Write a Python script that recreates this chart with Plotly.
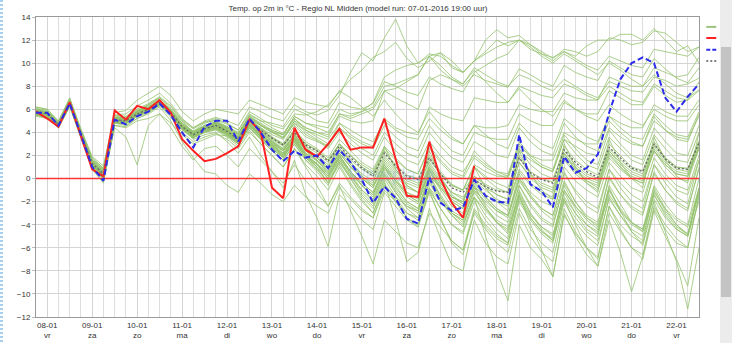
import plotly.graph_objects as go

# ---------------- data ----------------
day_labels = ["08-01<br>vr", "09-01<br>za", "10-01<br>zo", "11-01<br>ma", "12-01<br>di",
              "13-01<br>wo", "14-01<br>do", "15-01<br>vr", "16-01<br>za", "17-01<br>zo",
              "18-01<br>ma", "19-01<br>di", "20-01<br>wo", "21-01<br>do", "22-01<br>vr"]
day_steps = [1, 5, 9, 13, 17, 21, 25, 29, 33, 37, 41, 45, 49, 53, 57]   # 6-hourly step of each day label
steps = list(range(60))                                                  # 6-hourly time steps

operationeel = [5.8, 5.2, 4.5, 6.6, 3.7, 0.8, 0.2, 5.9, 5.1, 6.3, 6.0, 6.8, 5.7, 3.4, 2.4, 1.5, 1.7, 2.2, 2.8, 5.1,
                4.0, -0.8, -1.7, 4.4, 2.5, 1.9, 3.0, 4.3, 2.5, 2.7, 2.7, 5.2, 1.7, -1.5, -1.6, 3.2, 0.0, -2.1, -3.4, 1.1]

controle = [5.7, 5.7, 4.6, 6.5, 3.8, 1.0, -0.2, 5.1, 4.7, 5.4, 5.8, 6.5, 5.5, 4.0, 2.7, 4.5, 5.0, 5.0, 3.2, 5.2,
            4.0, 2.5, 1.5, 2.4, 1.8, 2.0, 0.9, 2.5, 1.4, -0.1, -2.1, -0.7, -1.7, -3.5, -3.9, 0.1, -2.1, -2.8, -2.5, -0.1,
            -1.5, -2.0, -2.1, 3.8, -0.5, -1.1, -2.5, 1.9, 0.5, 0.9, 2.1, 5.7, 8.6, 10.0, 10.5, 10.0, 7.0, 5.8, 7.1, 8.2]

gemiddelde = [5.8, 5.6, 4.7, 6.6, 3.9, 1.3, 0.4, 5.1, 5.0, 5.6, 6.0, 6.6, 5.7, 4.5, 3.8, 4.3, 4.6, 4.1, 3.4, 5.0,
              4.2, 3.5, 2.9, 4.0, 2.9, 2.4, 1.5, 2.8, 1.8, 0.9, 0.2, 2.2, 1.1, 0.2, -0.1, 1.8, 0.4, -0.8, -1.2, -0.1,
              -0.7, -1.1, -1.2, 1.8, 0.5, -0.1, -0.4, 2.5, 1.4, 0.6, 0.1, 2.7, 1.8, 0.9, 0.6, 3.0, 1.7, 0.9, 0.8, 3.1]

ensemble_members = [
    [6.2,6.0,4.9,6.9,4.2,1.8,0.9,5.5,5.6,6.3,6.8,7.4,6.5,5.2,4.4,5.0,5.3, 5.0,4.6,6.2,5.8,5.3,5.0,6.4,5.8,5.5,5.9,7.2,9.2,10.9,10.2,12.2,
     13.8,11.5,10.0,10.6,9.4,8.6,8.0,9.0,8.5,8.2,7.9,9.5,9.0,8.4,8.0,9.8,9.2,8.8,8.5,10.2,9.6,9.0,8.8,10.4,9.5,8.7,8.3,9.6],
    [5.5,5.3,4.5,6.4,3.6,1.0,0.1,4.8,4.7,5.4,5.9,6.5,5.9,4.8,4.1,4.8,5.1, 4.7,4.2,5.8,5.2,4.6,4.3,5.6,5.5,5.8,6.4,7.5,8.6,9.4,10.5,11.0,
     11.8,10.4,9.6,10.2,10.9,9.6,9.2,10.2,11.0,12.0,11.5,12.0,11.2,10.8,10.5,11.0,10.6,11.5,12.0,12.0,12.5,12.5,12.0,13.0,12.0,11.0,11.5,10.0],
    [5.9,5.7,4.8,6.7,4.0,1.5,0.6,5.3,5.2,5.9,6.3,6.9,5.5,4.2,3.5,4.5,4.9, 4.4,3.9,5.5,5.0,4.8,4.5,6.0,5.6,5.0,4.8,6.6,6.2,6.0,6.5,8.4,
     8.0,7.5,7.2,8.8,8.2,7.8,7.5,9.2,9.8,10.4,10.8,12.0,11.6,11.0,10.4,11.2,11.0,10.6,11.0,12.2,12.0,11.6,11.8,12.8,12.6,11.8,11.0,11.4],
    [5.6,5.4,4.6,6.5,3.8,1.2,0.2,5.0,4.9,5.5,6.1,6.8,6.0,5.0,4.3,4.9,5.0, 4.5,4.0,5.4,4.6,4.0,3.8,5.2,4.4,4.0,3.6,5.4,5.0,4.8,5.0,7.6,
     7.0,6.5,6.0,8.5,9.0,8.6,8.2,9.6,9.0,8.4,8.0,9.0,8.6,8.0,7.6,8.6,8.0,7.4,7.0,8.4,8.0,7.6,7.5,8.8,8.5,8.0,8.2,8.7],
    [6.0,5.8,4.8,6.8,4.1,1.6,0.8,5.4,5.3,5.8,6.4,7.0,6.2,5.0,4.0,4.6,4.8, 4.3,3.6,5.2,4.4,3.6,3.0,4.6,3.6,3.2,2.8,4.8,3.8,3.2,2.8,5.2,
     4.4,4.0,3.8,6.2,5.6,5.2,5.0,7.0,6.8,6.6,6.6,8.0,7.6,7.2,7.0,8.2,7.8,7.2,6.8,8.0,7.4,6.8,6.6,8.2,7.6,7.0,6.8,7.6],
    [5.7,5.5,4.6,6.6,3.8,1.2,0.3,5.1,4.9,5.6,5.9,6.5,5.6,4.4,3.7,4.2,4.5, 4.0,3.4,5.1,4.3,3.6,3.0,4.2,3.0,2.5,1.6,3.0,2.0,1.0,0.4,2.4,
     1.2,0.3,0.0,2.0,0.6,-0.5,-1.0,0.2,-0.5,-1.0,-1.2,2.0,0.6,0.0,-0.3,2.8,1.6,0.8,0.3,3.0,2.0,1.0,0.7,3.2,1.8,1.0,0.9,3.3],
    [5.9,5.6,4.7,6.5,3.9,1.4,0.5,5.0,5.1,5.7,6.1,6.7,5.8,4.6,3.9,4.4,4.7, 4.2,3.5,4.9,4.0,3.2,2.4,3.6,2.2,1.6,0.6,2.2,1.0,0.0,-0.8,1.4,
     0.2,-0.8,-1.2,1.0,-0.4,-1.6,-2.2,-0.8,-1.4,-2.0,-2.4,0.6,-0.6,-1.4,-1.8,1.6,0.4,-0.4,-1.0,1.8,0.8,0.0,-0.4,2.4,1.2,0.4,0.2,2.6],
    [5.6,5.4,4.5,6.4,3.7,1.0,0.0,4.8,4.8,5.4,5.8,6.4,5.5,4.3,3.6,4.0,4.3, 3.8,3.2,4.6,3.6,2.8,2.0,3.4,2.0,1.0,-0.4,1.4,0.0,-1.6,-2.6,0.0,
     -1.6,-3.0,-3.6,-0.8,-2.6,-4.0,-4.8,-2.0,-3.6,-4.8,-5.6,-1.6,-3.4,-4.6,-5.4,-1.2,-3.0,-4.4,-5.0,-1.0,-2.6,-3.8,-4.4,-0.6,-2.2,-3.4,-4.0,0.0],
    [5.8,5.5,4.6,6.6,3.8,1.3,0.2,5.0,4.8,5.5,5.9,6.4,5.6,4.5,3.9,4.2,4.4, 3.9,3.2,4.8,3.8,3.0,2.4,3.8,2.4,1.6,0.4,2.0,0.6,-0.6,-1.4,1.0,
     -0.6,-2.0,-2.6,0.4,-1.6,-3.0,-3.8,-1.6,-5.0,-8.0,-10.6,-4.0,-6.0,-7.0,-8.5,-3.0,-5.0,-6.6,-7.6,-3.0,-4.6,-6.0,-6.6,-2.4,-4.0,-5.2,-6.0,-1.6],
    [5.5,5.3,4.4,6.3,3.6,0.9,-0.3,4.6,4.5,5.2,5.7,6.3,5.3,4.0,3.2,3.6,3.9, 3.4,2.6,4.0,3.0,2.0,1.0,2.6,1.0,-0.6,-2.4,-0.6,-2.8,-5.0,-7.4,-3.6,
     -4.6,-5.6,-6.0,-3.0,-4.2,-5.4,-6.2,-3.0,-4.4,-5.6,-6.4,-2.6,-4.4,-5.6,-6.4,-2.0,-3.8,-5.0,-5.8,-1.6,-3.2,-4.6,-5.4,-1.0,-2.8,-4.0,-4.8,-0.8],
    [5.7,5.6,4.8,6.7,4.0,1.4,0.5,5.2,5.0,5.6,6.0,6.6,5.6,4.3,3.4,3.8,4.0, 3.2,2.2,3.6,2.0,0.6,-0.8,1.6,-1.4,-3.4,-5.9,-1.4,-2.4,-3.6,-4.4,-1.2,
     -2.4,-3.6,-4.2,-1.0,-2.6,-4.0,-4.6,-1.6,-3.2,-4.4,-5.2,-1.2,-3.0,-4.2,-5.0,-1.0,-2.6,-4.0,-4.8,-0.6,-2.2,-3.8,-4.6,-0.8,-2.6,-4.0,-5.0,-1.2],
    [5.9,5.7,4.7,6.6,3.9,1.4,0.6,5.2,5.1,5.7,6.1,6.7,5.7,4.4,3.7,4.1,4.3, 3.7,3.0,4.4,3.4,2.4,1.6,3.0,1.6,0.6,-0.6,1.6,0.0,-1.4,-2.4,-0.2,
     -3.6,-7.2,-6.4,-2.6,-5.2,-7.5,-8.0,-3.6,-5.6,-6.8,-7.4,-3.0,-5.0,-6.4,-7.2,-2.6,-4.6,-6.0,-7.0,-2.4,-4.4,-6.0,-7.0,-2.8,-5.0,-7.0,-9.3,-3.4],
    [5.6,5.5,4.6,6.5,3.8,1.2,0.4,5.0,5.0,5.5,5.9,6.5,5.7,4.6,3.9,4.4,4.7, 4.1,3.4,4.8,3.8,3.0,2.2,3.6,2.4,1.8,0.8,2.4,1.2,0.2,-0.6,1.2,
     0.0,-1.2,-1.8,0.8,-0.6,-1.8,-2.4,-0.4,-1.6,-2.6,-3.2,0.0,-1.6,-2.8,-3.6,-0.2,-2.0,-3.4,-4.2,-0.8,-2.8,-4.6,-5.8,-2.0,-4.6,-7.2,-11.3,-6.0],
    [5.8,5.6,4.7,6.6,3.9,1.3,0.4,5.1,5.0,5.6,6.0,6.6,5.7,4.5,3.8,4.3,4.6, 4.0,3.2,4.6,3.6,2.8,2.0,3.4,2.0,1.2,0.0,1.8,0.4,-1.0,-2.0,0.4,
     -1.0,-2.2,-2.8,0.0,-1.6,-3.0,-3.6,-1.0,-2.6,-3.8,-4.6,-1.0,-3.0,-4.4,-5.4,-1.8,-4.0,-6.0,-7.6,-3.6,-6.4,-9.8,-6.7,-2.6,-4.4,-5.6,-6.0,-1.4],
    [5.7,5.5,4.6,6.5,3.8,1.2,0.3,5.0,4.9,5.5,5.9,6.5,5.6,4.4,3.7,4.2,4.5, 3.9,3.2,4.7,3.7,2.9,2.1,3.5,2.1,1.3,0.2,2.0,0.6,-0.6,-1.6,0.6,
     -0.8,-2.0,-2.6,0.2,-1.4,-2.8,-3.4,-0.6,-2.4,-3.8,-4.8,-1.4,-4.0,-6.2,-8.5,-3.2,-4.8,-6.0,-6.8,-2.4,-4.0,-5.0,-5.6,-1.8,-3.4,-4.4,-5.0,-1.0],
    [6.0,5.7,4.8,6.8,4.0,1.6,0.8,5.3,5.3,5.9,6.4,7.0,6.0,4.8,4.1,4.6,4.9, 4.4,3.8,5.3,4.6,4.0,3.5,4.8,3.8,3.3,2.6,4.0,3.0,2.2,1.6,3.6,
     2.4,1.6,1.2,3.2,2.0,1.0,0.6,2.0,1.2,0.6,0.4,3.0,1.8,1.0,0.6,3.4,2.2,1.2,0.8,3.6,2.6,1.6,1.2,3.8,2.6,1.6,1.4,4.0],
    [5.4,5.2,4.4,6.2,3.5,0.8,-0.4,4.6,4.4,5.0,5.2,5.6,4.8,3.8,3.0,3.4,3.8, 3.7,3.0,4.4,3.4,2.6,1.8,3.2,1.8,1.2,0.2,1.8,0.6,-0.4,-1.2,1.0,
     -0.2,-1.2,-1.6,1.0,-0.4,-1.6,-2.0,0.2,-0.6,-1.4,-1.8,1.4,0.2,-0.6,-1.0,2.2,1.0,0.2,-0.2,2.4,1.4,0.6,0.2,2.8,1.6,0.8,0.6,3.0],
    [6.1,5.9,4.9,6.9,4.2,1.7,0.9,5.5,5.4,6.0,6.5,7.1,6.3,5.1,4.4,4.9,5.2, 4.8,4.2,5.6,5.0,4.4,3.9,5.2,4.2,3.6,3.0,4.4,3.4,2.6,2.0,4.0,
     3.0,2.2,1.8,4.0,2.8,1.8,1.4,3.2,2.6,2.0,1.8,4.4,3.2,2.4,2.0,4.8,3.6,2.8,2.4,5.0,4.0,3.2,2.8,5.4,4.2,3.4,3.2,5.6],
    [5.8,5.6,4.7,6.6,3.9,1.3,0.5,5.1,5.0,5.6,6.0,6.6,5.7,4.5,3.8,4.3,4.6, 4.1,3.3,4.9,4.1,3.3,2.6,3.8,2.6,2.0,1.2,2.6,1.6,0.8,0.2,2.0,
     0.8,-0.2,-0.6,1.4,0.0,-1.2,-1.6,-0.2,-1.0,-1.8,-2.2,0.8,-0.4,-1.2,-1.6,1.8,0.6,-0.2,-0.8,2.0,1.0,0.2,-0.2,2.4,1.2,0.4,0.2,2.8],
    [5.5,5.4,4.5,6.4,3.7,1.1,0.1,4.9,4.8,5.4,5.8,6.4,5.5,4.3,3.5,4.0,4.3, 3.8,3.1,4.6,3.8,3.1,2.4,3.9,2.8,2.2,1.4,3.0,2.0,1.2,0.6,2.6,
     1.6,0.8,0.4,2.6,1.4,0.4,0.0,1.8,1.0,0.4,0.0,2.6,1.2,0.4,0.0,2.4,1.2,0.4,0.0,2.6,1.6,0.8,0.4,3.0,1.8,1.0,0.8,3.2],
    [5.9,5.7,4.8,6.7,4.0,1.4,0.5,5.2,5.1,5.7,6.1,6.7,5.8,4.6,3.9,4.4,4.7, 4.1,3.4,4.8,3.9,3.1,2.4,3.7,2.4,1.6,0.8,2.2,1.0,0.0,-0.8,1.2,
     -0.2,-1.4,-2.0,0.6,-0.8,-2.0,-2.6,-0.6,-1.8,-2.8,-3.4,-0.2,-1.6,-2.6,-3.2,0.4,-1.0,-2.0,-2.6,0.8,-0.4,-1.4,-2.0,1.2,0.0,-1.0,-1.4,1.6],
    [5.8,5.5,4.6,6.6,3.9,1.3,0.4,5.1,4.9,5.5,5.9,6.5,5.6,4.4,3.7,4.2,4.5, 4.0,3.4,5.0,4.4,3.8,3.4,4.8,4.2,3.8,3.4,4.8,4.2,3.6,3.2,5.0,
     4.2,3.6,3.4,5.2,4.2,3.4,3.0,4.6,3.8,3.0,2.6,4.8,3.8,3.0,2.6,5.2,4.4,3.6,3.2,5.4,4.4,3.6,3.4,5.6,4.6,3.8,3.6,5.8],
    [5.6,5.3,4.4,6.3,3.5,0.9,-0.1,4.4,3.6,1.2,4.6,5.6,4.4,2.8,1.6,2.6,2.8, 2.0,1.0,2.6,1.6,0.6,-0.4,1.2,-0.2,-1.2,-2.4,-0.4,-1.6,-2.6,-3.4,-1.0,
     -2.0,-3.0,-3.4,-0.8,-2.0,-3.0,-3.6,-1.0,-2.0,-2.8,-3.2,0.0,-1.2,-2.0,-2.4,1.0,-0.2,-1.0,-1.6,1.4,0.2,-0.8,-1.2,1.8,0.4,-0.6,-1.0,2.0],
    [6.2,6.0,5.0,7.0,4.3,1.9,1.1,5.7,5.9,6.8,7.4,8.0,7.2,5.8,5.0,5.6,6.0, 5.8,5.6,6.8,6.4,6.0,5.6,7.0,6.6,6.4,6.2,7.6,7.0,6.2,5.4,6.8,
     5.6,4.6,4.0,5.8,4.6,3.6,3.0,4.6,4.4,4.4,4.6,6.4,6.0,5.8,5.8,7.4,7.0,6.8,6.8,8.8,8.4,8.0,8.0,9.6,9.2,8.8,9.0,10.5],
    [5.7,5.5,4.7,6.5,3.8,1.2,0.3,5.0,4.9,5.6,6.0,6.6,5.7,4.5,3.8,4.4,4.7, 4.2,3.6,5.2,4.6,4.2,3.8,5.4,4.8,4.6,4.4,6.0,5.6,5.8,6.2,8.0,
     8.2,8.6,9.0,10.6,10.9,10.2,9.2,10.2,10.8,11.4,11.8,12.0,11.4,10.6,10.0,10.8,10.2,9.6,9.0,10.0,9.4,8.6,8.0,9.0,8.2,7.4,7.0,7.7],
    [5.9,5.7,4.8,6.7,4.0,1.5,0.6,5.3,5.2,5.8,6.2,6.8,5.9,4.7,4.0,4.5,4.8, 4.3,3.6,5.2,4.2,3.2,2.6,4.2,2.8,1.8,1.0,3.0,1.4,0.2,-0.4,2.8,
     0.8,-0.6,-1.2,2.4,0.2,-1.4,-2.2,1.0,-0.8,-2.0,-2.8,2.4,0.4,-1.0,-1.8,3.0,1.0,-0.4,-1.2,3.4,1.4,0.0,-0.8,3.6,1.6,0.2,-0.4,4.0],
    [5.6,5.4,4.5,6.5,3.8,1.1,0.2,4.9,4.8,5.4,5.8,6.4,5.5,4.3,3.6,4.1,4.4, 3.9,3.2,4.6,3.6,2.7,1.9,3.2,1.8,1.0,0.0,1.6,0.2,-1.0,-1.8,0.4,
     -1.2,-2.4,-3.0,-0.4,-2.0,-3.2,-4.0,-1.6,-2.8,-3.8,-4.4,-1.4,-3.2,-4.2,-4.8,-1.6,-3.0,-4.0,-4.6,-1.4,-2.8,-3.8,-4.4,-1.2,-2.6,-3.6,-4.2,-0.8],
    [6.0,5.8,4.9,6.8,4.1,1.6,0.7,5.3,5.2,5.8,6.2,6.8,5.9,4.7,4.0,4.6,4.9, 4.5,3.9,5.4,4.7,4.1,3.5,5.0,4.0,3.4,2.8,4.4,3.6,3.0,2.6,4.6,
     3.6,2.8,2.4,4.6,3.4,2.4,2.0,4.0,3.6,3.4,3.4,5.6,5.0,4.6,4.6,6.6,6.0,5.6,5.6,7.6,7.0,6.4,6.4,8.0,7.2,6.6,6.8,8.4],
    [5.7,5.6,4.7,6.6,3.9,1.3,0.4,5.1,5.0,5.6,6.0,6.6,5.7,4.5,3.8,4.3,4.6, 4.0,3.3,4.7,3.7,2.9,2.2,3.5,2.2,1.5,0.6,2.2,1.0,0.0,-0.6,1.6,
     0.4,-0.6,-1.2,1.2,-0.2,-1.2,-1.8,0.0,-0.8,-1.4,-1.8,1.4,0.0,-0.8,-1.2,2.0,0.8,0.0,-0.4,2.4,1.2,0.4,0.0,2.6,1.4,0.6,0.4,2.8],
    [5.8,5.6,4.7,6.6,3.9,1.4,0.5,5.1,5.1,5.7,6.1,6.7,5.8,4.6,4.0,4.5,4.8, 4.4,3.8,5.4,4.8,4.2,3.8,5.4,4.8,4.4,4.0,5.6,5.2,5.6,6.0,7.6,
     7.8,8.4,9.0,10.6,9.8,8.8,8.2,9.4,8.4,7.4,6.6,7.8,6.8,6.0,5.4,6.8,6.0,5.4,5.0,6.4,5.6,5.0,4.6,6.0,5.4,5.0,5.0,6.4],
    [5.5,5.3,4.5,6.4,3.7,1.0,0.0,4.8,4.8,5.4,5.8,6.4,5.5,4.3,3.6,4.1,4.4, 3.9,3.1,4.5,3.5,2.7,1.9,3.3,2.0,1.3,0.4,2.0,0.6,-0.4,-1.2,1.0,
     -0.2,-1.4,-2.0,0.8,-0.8,-2.0,-2.6,-0.2,-1.6,-2.6,-3.2,0.4,-1.4,-2.6,-3.2,0.6,-1.2,-2.4,-3.0,0.8,-0.8,-2.0,-2.6,1.2,-0.4,-1.6,-2.2,1.6],
    [5.8,5.5,4.6,6.5,3.8,1.2,0.3,5.0,4.9,5.5,5.9,6.5,5.6,4.4,3.6,4.0,4.2, 3.6,2.8,4.2,3.0,2.0,1.0,2.6,1.2,0.2,-1.0,1.0,-0.6,-2.0,-3.0,-0.6,
     -2.0,-3.4,-4.0,-1.0,-3.6,-5.4,-6.2,-2.6,-4.0,-5.0,-5.6,-1.8,-3.4,-4.6,-5.2,-1.0,-2.4,-3.4,-4.0,0.0,-1.4,-2.4,-3.0,0.4,-1.0,-2.0,-2.6,0.8],
    [5.6,5.4,4.5,6.4,3.6,1.0,0.0,4.8,4.6,5.2,5.6,6.2,5.0,3.2,1.8,0.6,0.4, -0.6,-1.2,0.4,-0.4,-1.4,-2.0,-0.6,-1.6,-2.4,-3.0,-0.8,-1.8,-2.8,-3.4,-0.6,
     -1.6,-2.4,-2.8,0.2,-0.8,-1.6,-2.0,1.0,0.2,-0.4,-0.8,2.4,1.6,1.0,0.6,3.4,2.8,2.2,2.0,4.4,3.6,3.0,2.8,5.0,4.2,3.6,3.4,5.4],
    [5.9,5.7,4.8,6.7,4.0,1.5,0.6,5.2,5.1,5.7,6.1,6.7,5.8,4.6,3.9,4.4,4.7, 4.2,3.6,5.2,4.6,4.0,3.6,5.0,4.4,4.0,3.8,5.6,5.4,5.8,6.6,8.8,
     9.4,9.8,10.0,10.8,10.6,9.8,9.2,10.2,12.0,12.9,12.2,12.4,11.6,10.8,10.2,11.0,10.4,9.8,9.4,10.6,10.2,9.8,9.6,11.2,11.0,10.8,10.6,11.4],
    [5.7,5.5,4.6,6.5,3.8,1.2,0.3,5.0,4.9,5.5,5.9,6.5,5.6,4.4,3.7,4.1,4.4, 3.8,3.0,4.4,3.4,2.4,1.6,3.0,1.6,0.8,-0.2,1.4,0.2,-1.2,-2.2,0.2,
     -1.2,-2.6,-3.4,-0.2,-1.8,-3.2,-4.2,-1.2,-2.6,-3.6,-4.2,-0.6,-2.4,-3.6,-4.2,-0.4,-2.0,-3.2,-3.8,0.2,-1.4,-2.6,-3.2,0.6,-1.0,-2.2,-2.8,1.0],
    [5.9,5.6,4.7,6.6,3.9,1.4,0.5,5.1,5.0,5.7,6.1,6.7,5.8,4.6,3.9,4.4,4.7, 4.2,3.5,5.0,4.2,3.4,2.8,4.2,3.2,2.6,1.8,3.4,2.4,1.4,0.8,2.8,
     1.8,0.8,0.4,2.8,1.6,0.6,0.2,2.4,1.4,0.6,0.2,3.2,2.0,1.2,0.8,3.8,2.6,1.6,1.2,4.2,3.0,2.0,1.6,4.4,3.2,2.2,2.0,4.6],
    [5.6,5.4,4.6,6.5,3.8,1.1,0.2,4.9,4.8,5.4,5.8,6.4,5.5,4.3,3.6,4.1,4.4, 3.9,3.2,4.6,3.7,2.9,2.1,3.4,2.0,1.2,0.2,1.8,0.4,-0.6,-1.4,0.8,
     -0.4,-1.6,-2.2,0.6,-1.0,-2.4,-3.0,-0.8,-2.2,-3.2,-3.8,-0.6,-2.2,-3.4,-4.0,-0.6,-2.4,-3.6,-4.4,-1.0,-2.8,-4.0,-4.6,-1.4,-3.2,-4.4,-5.0,-2.0],
    [5.8,5.6,4.8,6.7,4.0,1.4,0.5,5.2,5.1,5.7,6.1,6.7,5.8,4.6,3.9,4.4,4.7, 4.1,3.4,4.9,4.0,3.2,2.5,3.8,2.6,1.9,1.0,2.6,1.4,0.4,-0.2,1.8,
     0.6,-0.4,-0.8,1.6,0.4,-0.6,-1.0,1.2,0.6,0.2,0.2,2.8,2.0,1.6,1.6,4.0,3.4,3.0,3.0,5.4,4.8,4.4,4.4,6.4,5.8,5.4,5.4,6.8],
    [5.7,5.5,4.7,6.6,3.9,1.3,0.4,5.1,5.0,5.6,6.0,6.6,5.7,4.5,3.8,4.3,4.6, 4.0,3.3,4.7,3.6,2.6,1.8,3.2,1.8,0.8,-0.4,1.2,-0.4,-1.8,-3.0,-0.4,
     -1.8,-3.4,-4.2,-1.2,-3.4,-5.6,-6.6,-2.8,-4.2,-5.2,-5.8,-2.0,-3.6,-4.8,-5.6,-1.8,-3.4,-4.6,-5.4,-1.8,-3.2,-4.4,-5.0,-1.4,-3.0,-4.2,-4.8,-1.0],
    [5.9,5.7,4.8,6.7,4.0,1.5,0.6,5.2,5.2,5.8,6.2,6.8,5.9,4.7,4.0,4.5,4.8, 4.3,3.7,5.1,4.3,3.5,2.9,4.1,3.0,2.4,1.6,3.0,2.0,1.0,0.4,2.4,
     1.0,0.0,-0.4,1.8,0.4,-0.6,-1.0,1.0,0.0,-0.8,-1.2,1.8,0.4,-0.4,-0.8,2.2,0.8,-0.2,-0.6,2.2,1.0,0.0,-0.4,2.4,1.0,0.0,-0.2,2.6],
]

legend_names = ["Scenario's", "Operationeel", "Controle", "Gemiddelde"]
title_text = "Temp. op 2m in °C - Regio NL Midden (model run: 07-01-2016 19:00 uur)"

# ---------------- styles ----------------
GREEN = "rgba(148,194,108,0.78)"
RED = "#ff2222"
BLUE = "#2b2bea"
GREY = "#555555"
FONT = "Liberation Sans, Arial, sans-serif"

fig = go.Figure()

for m in ensemble_members:
    fig.add_trace(go.Scatter(x=steps[:len(m)], y=m, mode="lines",
                             line=dict(color=GREEN, width=1), showlegend=False, hoverinfo="skip"))

# zero reference line
fig.add_trace(go.Scatter(x=[steps[0], steps[-1]], y=[0, 0], mode="lines",
                         line=dict(color="#ff3333", width=1.5), showlegend=False, hoverinfo="skip"))

fig.add_trace(go.Scatter(x=steps[:len(gemiddelde)], y=gemiddelde, mode="lines", name=legend_names[3],
                         line=dict(color="#666666", width=1.3, dash="2px,2px"), showlegend=False))
fig.add_trace(go.Scatter(x=steps[:len(operationeel)], y=operationeel, mode="lines", name=legend_names[1],
                         line=dict(color=RED, width=2), showlegend=False))
fig.add_trace(go.Scatter(x=steps[:len(controle)], y=controle, mode="lines", name=legend_names[2],
                         line=dict(color=BLUE, width=2, dash="6px,3px"), showlegend=False))

# manual legend in the right margin (samples + labels)
leg_y = [0.967, 0.930, 0.891, 0.853]
leg_styles = [dict(color="#9cc47e", width=2), dict(color=RED, width=2),
              dict(color=BLUE, width=2, dash="4px,2px"), dict(color=GREY, width=1.5, dash="2px,2px")]
shapes = []
annotations = []
for name, yy, st in zip(legend_names, leg_y, leg_styles):
    shapes.append(dict(type="line", xref="paper", yref="paper", x0=1.011, x1=1.026, y0=yy, y1=yy, line=st))
    annotations.append(dict(xref="paper", yref="paper", x=1.0285, y=yy, text=name, showarrow=False,
                            xanchor="left", yanchor="middle", font=dict(size=8, color="#333", family=FONT)))

# faint watermark
annotations.append(dict(xref="paper", yref="paper", x=0.538, y=0.475, text="Weerplaza", showarrow=False,
                        font=dict(size=18, color="rgba(120,170,220,0.30)", family=FONT)))

fig.update_layout(
    width=732, height=343,
    margin=dict(l=36, r=33, t=17, b=26, autoexpand=False),
    paper_bgcolor="white", plot_bgcolor="white",
    font=dict(family=FONT, size=8, color="#333"),
    title=dict(text=title_text, x=358 / 732, xanchor="center", y=1 - 8.5 / 343, yanchor="middle",
               font=dict(size=8, color="#333", family=FONT)),
    shapes=shapes, annotations=annotations,
    showlegend=False,
)
fig.update_xaxes(range=[steps[0], steps[-1]], tickmode="array", tickvals=day_steps, ticktext=day_labels,
                 showgrid=True, gridcolor="#d4d4d4", gridwidth=1, automargin=False,
                 minor=dict(tickmode="linear", tick0=0, dtick=1, showgrid=True, gridcolor="#dedede", gridwidth=1),
                 showline=True, linecolor="#999", mirror=True, ticks="", zeroline=False,
                 tickfont=dict(size=8, color="#333"))
fig.update_yaxes(range=[-12, 14], tickmode="linear", tick0=-12, dtick=2, automargin=False,
                 showgrid=True, gridcolor="#d4d4d4", gridwidth=1, zeroline=False,
                 showline=True, linecolor="#999", mirror=True, ticks="outside", ticklen=3, tickcolor="#bbb",
                 tickfont=dict(size=8, color="#333"))

post = """
var s=document.createElement('div');
s.style.cssText='position:fixed;top:0;right:0;width:12px;height:100%;background:#ececec;z-index:10';
var t=document.createElement('div');
t.style.cssText='position:fixed;top:47px;right:1px;width:10px;height:250px;background:#c4c4c4;z-index:11';
var l=document.createElement('div');
l.style.cssText='position:fixed;top:0;left:0;width:3px;height:100%;z-index:10;background:repeating-linear-gradient(#a8cff0 0px,#a8cff0 2px,#ffffff 2px,#ffffff 4px)';
document.body.appendChild(s);document.body.appendChild(t);document.body.appendChild(l);
"""

fig.write_html("out.html", post_script=post)
